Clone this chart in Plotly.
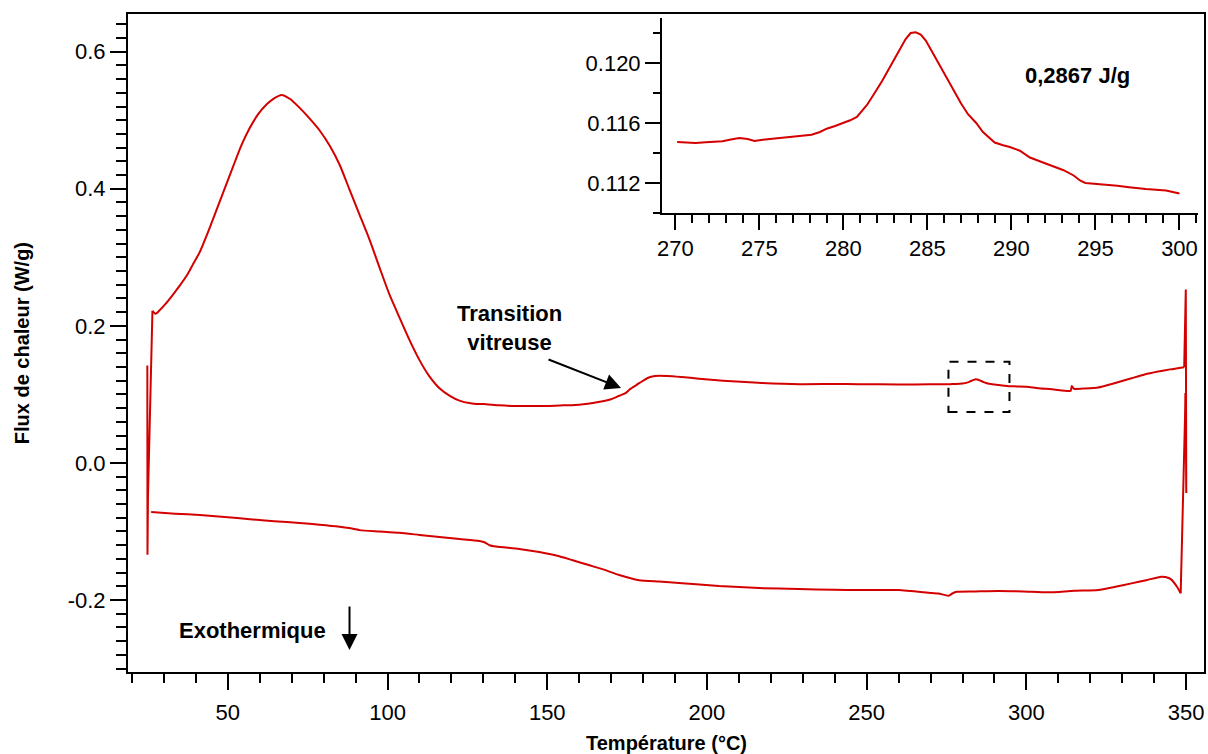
import plotly.graph_objects as go

# ---------------- data ----------------
heat_T = [24.8, 24.85, 25.0, 26.4, 27.4, 28.5, 30.5, 32.9, 35.0, 37.1, 39.0, 41.25, 43.3, 45.4, 48.5,
          51.7, 54.3, 56.9, 59.5, 62.1, 64.5, 66.8, 69.5, 72.5, 75.5, 78.75, 82.0, 85.0, 88.0, 91.25,
          94.5, 97.5, 100.5, 103.75, 107.0, 110.0, 113.0, 116.25, 119.5, 122.5, 126.0, 128.0, 130.0,
          135.0, 140.0, 145.0, 150.0, 155.0, 160.0, 166.0, 170.0, 172.5, 174.5, 176.0, 178.0, 180.3,
          182.0, 183.75, 187.5, 192.0, 197.5, 205.0, 216.0, 229.0, 240.0, 247.5, 260.0, 270.0, 272.8,
          274.7, 276.2, 278.1, 280.0, 281.4, 282.3, 283.3, 284.2, 284.9, 285.6, 286.6, 287.4, 288.3,
          289.9, 292.5, 294.4, 297.0, 300.0, 303.75, 308.0, 313.1, 313.9, 314.2, 314.8, 315.2, 318.0,
          322.5, 327.0, 332.9, 337.0, 341.25, 345.0, 349.4, 349.9, 350.05, 350.05, 349.85]
heat_F = [0.142, -0.134, -0.05, 0.222, 0.2175, 0.222, 0.232, 0.246, 0.259, 0.273, 0.289, 0.308, 0.331,
          0.356, 0.394, 0.433, 0.464, 0.489, 0.509, 0.523, 0.532, 0.537, 0.531, 0.518, 0.503, 0.485,
          0.462, 0.435, 0.400, 0.362, 0.324, 0.285, 0.247, 0.212, 0.178, 0.150, 0.127, 0.109, 0.098,
          0.091, 0.087, 0.086, 0.086, 0.084, 0.083, 0.083, 0.083, 0.084, 0.085, 0.089, 0.093, 0.098,
          0.102, 0.108, 0.114, 0.121, 0.125, 0.127, 0.127, 0.1255, 0.123, 0.120, 0.117, 0.115, 0.1152,
          0.115, 0.1146, 0.1147, 0.1148, 0.1148, 0.1150, 0.1152, 0.1160, 0.1172, 0.1188, 0.1208, 0.1221,
          0.1215, 0.1201, 0.1180, 0.1166, 0.1154, 0.1144, 0.1131, 0.1120, 0.1117, 0.1113, 0.109, 0.1075,
          0.105, 0.1055, 0.1124, 0.1085, 0.108, 0.1085, 0.110, 0.1155, 0.1236, 0.1290, 0.1333, 0.1365,
          0.1397, 0.253, -0.044, 0.100, 0.102]

cool_T = [349.85, 348.3, 347.2, 345.3, 343.5, 342.2, 337.5, 332.9, 327.5, 322.5, 315.0, 306.9, 299.0,
          291.25, 284.0, 278.2, 276.8, 275.6, 272.5, 270.3, 260.0, 247.5, 240.0, 228.75, 216.25, 203.75,
          191.25, 185.0, 178.75, 172.5, 168.0, 163.0, 158.0, 153.75, 147.5, 141.25, 134.0, 131.9, 130.5,
          128.75, 122.5, 116.25, 110.0, 103.75, 97.5, 91.25, 88.0, 85.0, 78.75, 72.5, 64.5, 56.9, 49.0,
          41.25, 33.5, 26.0]
cool_F = [0.102, -0.190, -0.181, -0.1698, -0.1665, -0.166, -0.171, -0.1757, -0.181, -0.1854, -0.1865,
          -0.1888, -0.1875, -0.1869, -0.1875, -0.188, -0.1905, -0.1937, -0.1905, -0.1898, -0.1854,
          -0.1854, -0.185, -0.184, -0.1825, -0.1796, -0.175, -0.173, -0.171, -0.1635, -0.156, -0.149,
          -0.142, -0.136, -0.130, -0.1255, -0.122, -0.120, -0.116, -0.114, -0.111, -0.108, -0.105,
          -0.102, -0.100, -0.098, -0.095, -0.093, -0.090, -0.0876, -0.085, -0.082, -0.079, -0.076,
          -0.074, -0.0715]

inset_T = [270.1, 270.6, 271.2, 271.8, 272.3, 272.8, 273.3, 273.8, 274.3, 274.7, 275.2, 275.7, 276.2,
           276.8, 277.4, 278.1, 278.6, 279.0, 279.5, 280.0, 280.4, 280.8, 281.1, 281.4, 281.8, 282.3,
           282.8, 283.3, 283.7, 284.0, 284.3, 284.6, 284.9, 285.2, 285.6, 286.1, 286.6, 287.0, 287.4,
           287.9, 288.3, 288.7, 289.0, 289.5, 289.9, 290.5, 291.1, 291.8, 292.5, 293.1, 293.7, 294.1,
           294.4, 295.0, 295.6, 296.3, 297.0, 297.5, 298.0, 298.6, 299.2, 299.6, 300.0]
inset_F = [0.11473, 0.11470, 0.11466, 0.11472, 0.11476, 0.11479, 0.11490, 0.11500, 0.11493, 0.11480,
           0.11488, 0.11492, 0.11500, 0.11507, 0.11512, 0.11522, 0.11540, 0.11562, 0.11580, 0.11600,
           0.11618, 0.11640, 0.11680, 0.11720, 0.11790, 0.11880, 0.11980, 0.12080, 0.12160, 0.12200,
           0.12205, 0.12190, 0.12150, 0.12090, 0.12010, 0.11900, 0.11800, 0.11730, 0.11660, 0.11600,
           0.11540, 0.11500, 0.11470, 0.11452, 0.11440, 0.11415, 0.11370, 0.11340, 0.11310, 0.11285,
           0.11250, 0.11215, 0.11200, 0.11195, 0.11190, 0.11182, 0.11172, 0.11165, 0.11160, 0.11155,
           0.11150, 0.11140, 0.11130]

x_ticks = [50, 100, 150, 200, 250, 300, 350]
y_ticks = [-0.2, 0.0, 0.2, 0.4, 0.6]
y_ticktext = ["-0.2", "0.0", "0.2", "0.4", "0.6"]
inset_x_ticks = [270, 275, 280, 285, 290, 295, 300]
inset_y_ticks = [0.112, 0.116, 0.120]
inset_y_ticktext = ["0.112", "0.116", "0.120"]

# ---------------- figure ----------------
RED = "#d40000"
FONT = "Liberation Sans, Arial, sans-serif"

# split indices: sharp spikes drawn straight, smooth body drawn with a spline
H_START = 3                      # end of initial transient
H_END = heat_T.index(349.4)      # start of final spike
C_START = 1                      # end of cooling transient

fig = go.Figure()
line_lin = dict(color=RED, width=2)
line_spl = dict(color=RED, width=2, shape="spline", smoothing=0.6)
segments = [
    (heat_T[:H_START + 1], heat_F[:H_START + 1], line_lin),
    (heat_T[H_START:H_END + 1], heat_F[H_START:H_END + 1], line_spl),
    (heat_T[H_END:], heat_F[H_END:], line_lin),
    (cool_T[:C_START + 1], cool_F[:C_START + 1], line_lin),
    (cool_T[C_START:], cool_F[C_START:], line_spl),
]
for xs, ys, ln in segments:
    fig.add_trace(go.Scatter(x=xs, y=ys, mode="lines", line=ln, xaxis="x", yaxis="y", hoverinfo="skip"))
fig.add_trace(go.Scatter(x=inset_T, y=inset_F, mode="lines", line=dict(color=RED, width=2),
                         xaxis="x2", yaxis="y2", hoverinfo="skip"))

TICKSIZE = 22
axis_common = dict(showgrid=False, zeroline=False, showline=True, linecolor="black", linewidth=2,
                   ticks="outside", tickcolor="black", tickwidth=2,
                   tickfont=dict(family=FONT, size=TICKSIZE, color="black"))

fig.update_layout(
    width=1208, height=754,
    margin=dict(l=128, r=2, t=14, b=82),
    paper_bgcolor="white", plot_bgcolor="white",
    showlegend=False,
    xaxis=dict(domain=[0, 1], range=[18.75, 355.6], tickvals=x_ticks, ticklen=16,
               minor=dict(dtick=10, tick0=0, ticklen=9, tickwidth=2, tickcolor="black", ticks="outside"),
               mirror=True, ticklabelstandoff=4, **axis_common),
    yaxis=dict(domain=[0, 1], range=[-0.305, 0.655], tickvals=y_ticks, ticktext=y_ticktext, ticklen=16,
               minor=dict(dtick=0.02, tick0=0, ticklen=10, tickwidth=2, tickcolor="black", ticks="outside"),
               mirror=True, **axis_common),
    xaxis2=dict(domain=[0.4963, 0.9944], anchor="y2", range=[269.2, 301.1], tickvals=inset_x_ticks,
                ticklen=15,
                minor=dict(dtick=1, tick0=0, ticklen=8, tickwidth=2, tickcolor="black", ticks="outside"),
                **axis_common),
    yaxis2=dict(domain=[0.6976, 0.9939], anchor="x2", range=[0.110, 0.1230], tickvals=inset_y_ticks,
                ticktext=inset_y_ticktext, ticklen=15,
                minor=dict(dtick=0.002, tick0=0, ticklen=7, tickwidth=2, tickcolor="black", ticks="outside"),
                **axis_common),
)

title_font = dict(family=FONT, size=20, color="black", weight="bold")
bold = dict(family=FONT, size=22, color="black", weight="bold")

fig.add_annotation(xref="paper", yref="paper", x=-0.0983, y=0.5, text="Flux de chaleur (W/g)",
                   textangle=-90, showarrow=False, font=title_font, xanchor="center", yanchor="middle")
fig.add_annotation(xref="paper", yref="paper", x=0.5, y=-0.108, text="Température (°C)",
                   showarrow=False, font=title_font, xanchor="center", yanchor="middle")

fig.add_annotation(xref="x", yref="y", x=138.1, y=0.197, text="Transition<br>vitreuse",
                   showarrow=False, font=bold, align="center")
fig.add_annotation(xref="x", yref="y", x=173.1, y=0.1095, ax=-74, ay=-29, text="",
                   showarrow=True, arrowhead=2, arrowsize=1.6, arrowwidth=2, arrowcolor="black")

fig.add_annotation(xref="x", yref="y", x=57.8, y=-0.245, text="Exothermique",
                   showarrow=False, font=bold)
fig.add_annotation(xref="x", yref="y", x=88.1, y=-0.273, ax=0, ay=-45, text="",
                   showarrow=True, arrowhead=2, arrowsize=1.6, arrowwidth=2, arrowcolor="black")

fig.add_annotation(xref="x2", yref="y2", x=293.9, y=0.1192, text="0,2867 J/g",
                   showarrow=False, font=bold)

fig.add_shape(type="rect", xref="x", yref="y", x0=275.6, x1=294.7, y0=0.0745, y1=0.1475,
              line=dict(color="black", width=2, dash="dash"))

fig.write_html("out.html")
